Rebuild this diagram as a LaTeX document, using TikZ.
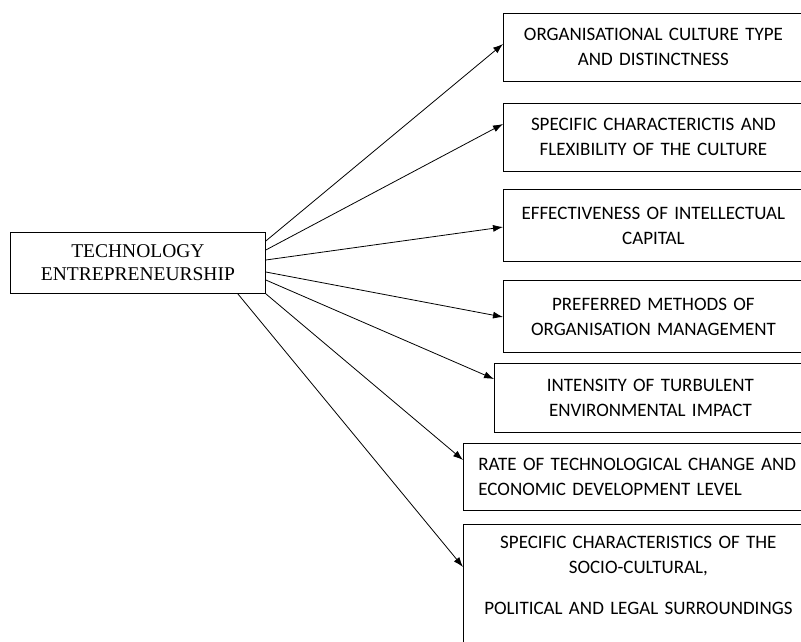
\documentclass[tikz,border=0pt]{standalone}
\usepackage{fontspec}
\setmainfont{Liberation Serif}
\newfontfamily\boxfont{Carlito}
\usetikzlibrary{arrows.meta}

\begin{document}
\begin{tikzpicture}[x=1pt, y=1pt, line width=0.8pt,
    hub/.style={draw, anchor=north west, align=center, font=\fontsize{19.5}{23.3}\selectfont},
    factor/.style={draw, anchor=north west, align=center, inner xsep=4pt, font=\boxfont\fontsize{19}{25}\selectfont},
    link/.style={-{Latex[length=10pt, width=7pt]}}]
    \useasboundingbox (0,0) rectangle (801,-642);

    % Central box
    \node[hub, minimum width=255, minimum height=61] (tech) at (10,-232) {TECHNOLOGY\\ENTREPRENEURSHIP};

    % Factor boxes
    \node[factor, text width=292, minimum height=68] (culture) at (503,-13) {ORGANISATIONAL CULTURE TYPE\\AND DISTINCTNESS};
    \node[factor, text width=292, minimum height=68] (flex) at (503,-103) {SPECIFIC CHARACTERICTIS AND\\FLEXIBILITY OF THE CULTURE};
    \node[factor, text width=292, minimum height=72] (capital) at (503,-189) {EFFECTIVENESS OF INTELLECTUAL\\CAPITAL};
    \node[factor, text width=292, minimum height=72] (methods) at (503,-280) {PREFERRED METHODS OF\\ORGANISATION MANAGEMENT};
    \node[factor, text width=304, minimum height=69] (turbulence) at (494,-363) {INTENSITY OF TURBULENT\\ENVIRONMENTAL IMPACT};
    \node[factor, text width=330, inner xsep=15pt, align=left, minimum height=67] (techrate) at (463,-443) {RATE OF TECHNOLOGICAL CHANGE AND\\ECONOMIC DEVELOPMENT LEVEL};
    \node[factor, text width=342, inner ysep=12pt] (surround) at (463,-524) {SPECIFIC CHARACTERISTICS OF THE\\SOCIO-CULTURAL,\\[16pt]POLITICAL AND LEGAL SURROUNDINGS\\[40pt]\mbox{}};

    % Arrows
    \draw[link] ([yshift=-9pt]tech.north east) -- ([yshift=-31pt]culture.north west);
    \draw[link] ([yshift=-18pt]tech.north east) -- ([yshift=-21pt]flex.north west);
    \draw[link] ([yshift=-28pt]tech.north east) -- ([yshift=-38pt]capital.north west);
    \draw[link] ([yshift=-40pt]tech.north east) -- ([yshift=-37pt]methods.north west);
    \draw[link] ([yshift=-48pt]tech.north east) -- ([yshift=-16pt]turbulence.north west);
    \draw[link] (tech.south east) -- ([yshift=-17pt]techrate.north west);
    \draw[link] ([xshift=-28pt]tech.south east) -- ([yshift=-43pt]surround.north west);
\end{tikzpicture}
\end{document}
